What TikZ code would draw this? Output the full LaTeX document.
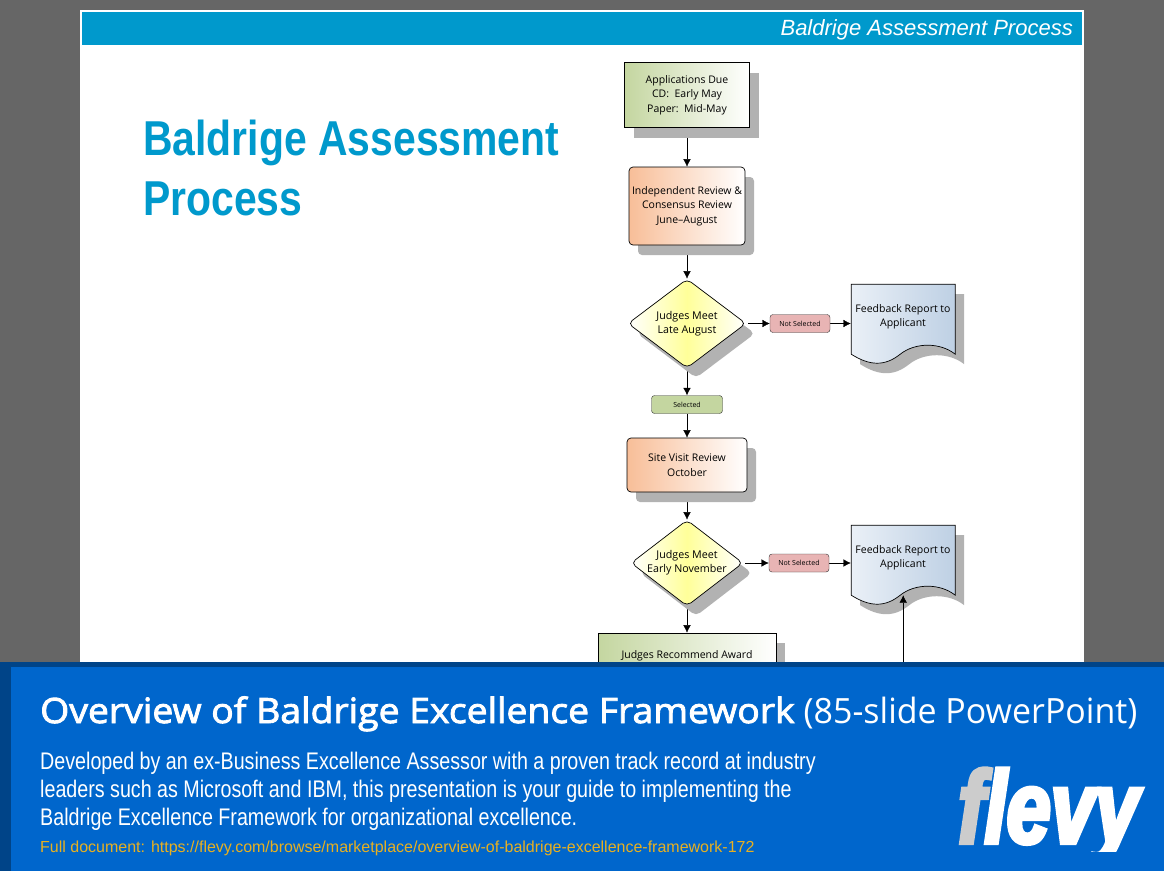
\documentclass[tikz,border=0pt]{standalone}
\usepackage{fontspec}
\usetikzlibrary{shapes.geometric,arrows.meta,positioning,shadows,backgrounds}
\setmainfont{Open Sans}
\newfontfamily\slidefont[FakeStretch=0.835]{Liberation Sans}
\newfontfamily\headfont{Liberation Sans}
\newfontfamily\bodyfont[FakeStretch=0.82]{Liberation Sans}
\newfontfamily\parenfont[FakeStretch=0.975]{Open Sans}
\newfontfamily\semifont[FakeStretch=1.073,FakeBold=2.5]{Open Sans}
\newfontfamily\logofont[FakeStretch=0.77,FakeBold=4]{Liberation Sans}
\definecolor{slideblue}{HTML}{0099CC}
\definecolor{bannerblue}{HTML}{0066CC}
\definecolor{bannerdark}{HTML}{004488}
\definecolor{shadowgray}{HTML}{B2B2B2}
\definecolor{boxgreen}{HTML}{C4D6A0}
\definecolor{boxpeach}{HTML}{F8BE98}
\definecolor{boxyellow}{HTML}{FFFF99}
\definecolor{pillred}{HTML}{E8B4B4}
\definecolor{sheetleft}{HTML}{EAF0F7}
\definecolor{sheetright}{HTML}{BED0E4}
\definecolor{linkyellow}{HTML}{E8B020}
\tikzset{
  flowshadow/.style={drop shadow={shadow xshift=9pt,shadow yshift=-10pt,opacity=1,fill=shadowgray}},
  flowbox/.style={draw=black,line width=0.7pt,flowshadow,align=center,inner sep=0pt,
    font=\fontsize{10.5}{14.5}\selectfont},
  greenbox/.style={flowbox,left color=boxgreen,right color=white},
  peachbox/.style={flowbox,rounded corners=4pt,left color=boxpeach,right color=white},
  judgebox/.style={flowbox,diamond,aspect=1.3,rounded corners=5pt,left color=white,right color=white,middle color=boxyellow,
    font=\fontsize{10.7}{14}\selectfont},
  pillbox/.style={draw=black!80,rounded corners=3pt,minimum height=18pt,inner sep=0pt,font=\fontsize{7}{8}\selectfont},
  docbox/.style={minimum width=104pt,minimum height=66pt,align=center,inner sep=0pt,
    font=\fontsize{10.5}{13.8}\selectfont},
  docsheet/.style={draw=black,line width=0.7pt,left color=sheetleft,right color=sheetright,flowshadow},
  >={Latex[length=7.5pt,width=7.5pt]}
}
% wavy sheet behind a docbox node
\newcommand{\docsheetat}[1]{
  \begin{scope}[shift={(#1.south east)}]
    \draw[docsheet] (-104,-66) -- (0,-66) -- (0,4) .. controls (-15,-8) and (-40,-8) .. (-55,4)
      .. controls (-70,16) and (-85,16) .. (-104,4) -- cycle;
  \end{scope}
}

\begin{document}
\begin{tikzpicture}[x=1pt,y=-1pt,node distance=100pt,on grid]
  \useasboundingbox (0,0) rectangle (1164,871);

  \node[greenbox,minimum width=125pt,minimum height=65pt] (q_due) at (687,95) {Applications Due\\CD:\ \ Early May\\Paper:\ \ Mid-May};
  \node[peachbox,minimum width=116pt,minimum height=78pt] (q_review) [below=111pt of q_due] {Independent Review \&\\Consensus Review\\June--August};
  \node[judgebox,minimum width=118pt,minimum height=89pt] (q_judge1) [below=117.5pt of q_review] {Judges Meet\\Late August};
  \node[pillbox,fill=pillred,minimum width=60pt] (q_notsel1) [right=113pt of q_judge1] {Not Selected};
  \node[docbox] (q_doc1) [above right=6.5pt and 103pt of q_notsel1] {Feedback Report to\\Applicant};
  \node[pillbox,fill=boxgreen,minimum width=71pt] (q_sel) [below=81pt of q_judge1] {Selected};
  \node[peachbox,minimum width=120pt,minimum height=54pt] (q_site) [below=60.5pt of q_sel] {Site Visit Review\\October};
  \node[judgebox,minimum width=110pt,minimum height=86pt] (q_judge2) [below=98pt of q_site] {Judges Meet\\Early November};
  \node[pillbox,fill=pillred,minimum width=60pt] (q_notsel2) [right=112pt of q_judge2] {Not Selected};
  \node[docbox] (q_doc2) [above right=5pt and 104pt of q_notsel2] {Feedback Report to\\Applicant};
  \node[greenbox,minimum width=178pt,minimum height=46pt] (q_award) [below=93pt of q_judge2] {Judges Recommend Award};

  \node[font=\headfont\itshape\fontsize{22}{22}\selectfont,text=white,anchor=base east,inner sep=0pt] (header) at (1073,35) {Baldrige Assessment Process};
  \node[font=\slidefont\bfseries\fontsize{49}{60}\selectfont,text=slideblue,anchor=base west,align=left,inner sep=0pt] (slidetitle) at (143,215) {Baldrige Assessment\\Process};

  \begin{scope}[on background layer]
    \fill[black!60] (0,0) rectangle (1164,871);
    \fill[white] (80,10) rectangle (1084,680);
    \fill[slideblue] (82,12) rectangle (1082,45);
    \path[->] (q_due) edge (q_review);
    \path[->] (q_review) edge (q_judge1);
    \path[->] (q_judge1) edge (q_sel);
    \path[->] (q_sel) edge (q_site);
    \path[->] (q_site) edge (q_judge2);
    \path[->] (q_judge2) edge (q_award);
    \path[->,shorten <=2pt] (q_judge1) edge (q_notsel1);
    \path[->,shorten <=2pt] (q_judge2) edge (q_notsel2);
    \path[->] (q_notsel1) edge (q_notsel1 -| q_doc1.west);
    \path[->] (q_notsel2) edge (q_notsel2 -| q_doc2.west);
    \docsheetat{q_doc1}
    \docsheetat{q_doc2}
  \end{scope}

  \coordinate (q_low) at ([xshift=-52pt,yshift=-4pt]q_doc2.south east);
  \coordinate (q_from) at (q_low |- 0,700);
  \path[->] (q_from) edge (q_low);

  \fill[bannerdark] (0,662) rectangle (1164,871);
  \fill[bannerblue] (11,667) rectangle (1164,871);
  \node[font=\fontsize{34.8}{35}\selectfont,text=white,anchor=base west,inner sep=0pt] (banner) at (40,723) {{\semifont Overview of Baldrige Excellence Framework} {\parenfont (85-slide PowerPoint)}};
  \node[font=\bodyfont\fontsize{24}{28}\selectfont,text=white,anchor=base west,align=left,inner sep=0pt] (blurb) at (40,825) {Developed by an ex-Business Excellence Assessor with a proven track record at industry\\leaders such as Microsoft and IBM, this presentation is your guide to implementing the\\Baldrige Excellence Framework for organizational excellence.};
  \node[font=\headfont\fontsize{16}{16}\selectfont,text=linkyellow,anchor=base west,inner sep=0pt] (fulldoc) at (40,852) {Full document: https://flevy.com/browse/marketplace/overview-of-baldrige-excellence-framework-172};
  \begin{scope}
    \clip (950,760) rectangle (1164,851);
    \node[font=\logofont\bfseries\itshape\fontsize{103}{103}\selectfont,text=white,anchor=base west,inner sep=0pt] (logo) at (958,843) {\textcolor{black!20}{f}levy};
  \end{scope}
\end{tikzpicture}
\end{document}
